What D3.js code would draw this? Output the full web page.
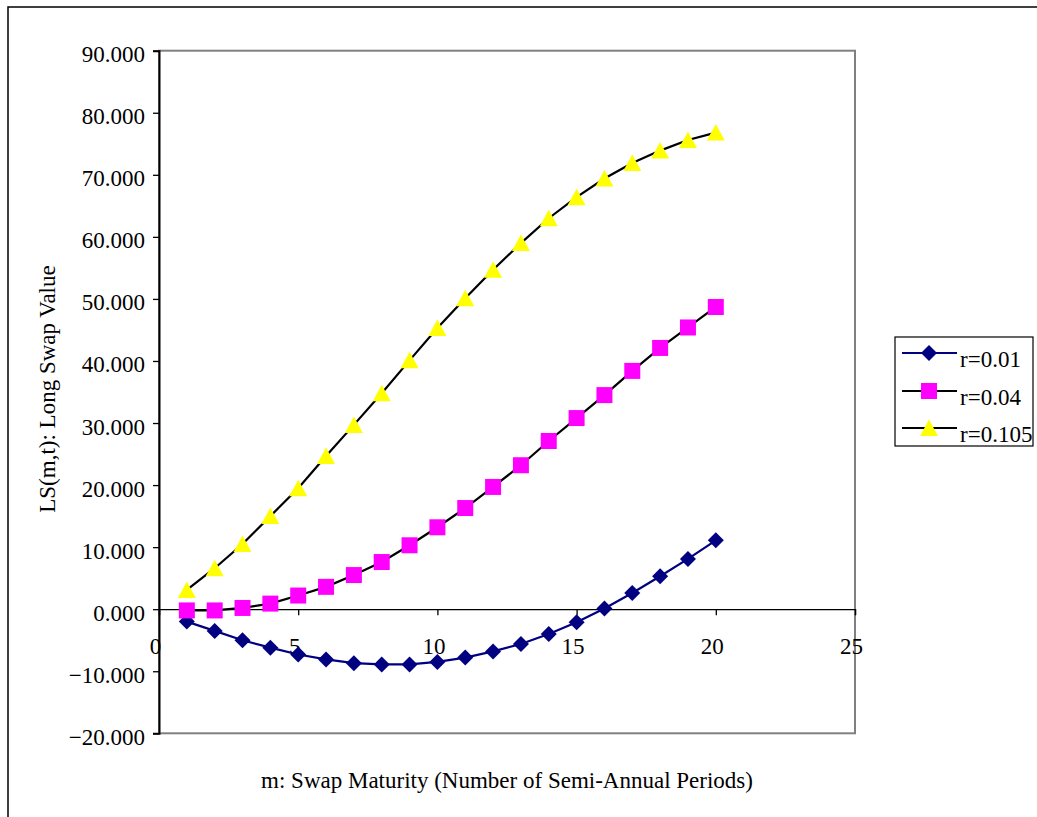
<!DOCTYPE html>
<html>
<head>
<meta charset="utf-8">
<script src="https://cdn.jsdelivr.net/npm/d3@7"></script>
<style>
  html, body { margin: 0; padding: 0; background: #fff; }
  svg { display: block; }
  text { font-family: "Liberation Serif", "Times New Roman", serif; fill: #000; }
</style>
</head>
<body>
<svg id="chart" width="1037" height="817"></svg>
<script>
// ---- data ----
const maturities = [1,2,3,4,5,6,7,8,9,10,11,12,13,14,15,16,17,18,19,20];
const seriesNames = ["r=0.01", "r=0.04", "r=0.105"];
const r001 = [-2.0,-3.5,-5.0,-6.2,-7.3,-8.1,-8.7,-8.9,-8.9,-8.5,-7.8,-6.8,-5.6,-4.0,-2.1,0.1,2.6,5.3,8.1,11.1];
const r004 = [-0.2,-0.2,0.2,0.9,2.2,3.6,5.5,7.6,10.3,13.2,16.3,19.7,23.2,27.1,30.8,34.5,38.4,42.1,45.4,48.7];
const r0105 = [3.1,6.6,10.5,15.0,19.5,24.7,29.7,34.8,40.1,45.3,50.1,54.7,59.0,63.0,66.4,69.4,71.9,73.9,75.6,76.8];
const yTicks = [-20,-10,0,10,20,30,40,50,60,70,80,90];
const xTicks = [0,5,10,15,20,25];
const xTitle = "m: Swap Maturity (Number of Semi-Annual Periods)";
const yTitle = "LS(m,t): Long Swap Value";

const seriesData = [r001, r004, r0105];
const styles = [
  {line: "#000080", fill: "#000080", shape: "diamond"},
  {line: "#000000", fill: "#FF00FF", shape: "square"},
  {line: "#000000", fill: "#FFFF00", shape: "triangle"}
];

// ---- layout ----
const svg = d3.select("#chart");
const L = 159, R = 855, T = 50.7, B = 733.3;
const x = d3.scaleLinear().domain([0, 25]).range([L, R]);
const y = d3.scaleLinear().domain([-20, 90]).range([B, T]);
const FS = 23;

// outer frame
svg.append("rect").attr("x", 8).attr("y", 7).attr("width", 1200).attr("height", 1000)
  .attr("fill", "none").attr("stroke", "#000").attr("stroke-width", 1.5);

// plot area border
svg.append("rect").attr("x", L).attr("y", T).attr("width", R - L).attr("height", B - T)
  .attr("fill", "#fff").attr("stroke", "#808080").attr("stroke-width", 2);

// y axis
const yAxis = d3.axisLeft(y).tickValues(yTicks).tickSize(6).tickPadding(8)
  .tickFormat(d3.format(".3f"));
const gy = svg.append("g").attr("transform", `translate(${L},0)`).call(yAxis);
gy.select(".domain").attr("stroke", "#000").attr("stroke-width", 2);
gy.selectAll(".tick line").attr("stroke", "#000").attr("stroke-width", 1.3);
gy.selectAll(".tick text").attr("font-size", FS).attr("font-family", "Liberation Serif")
  .attr("dy", null).attr("y", 11).attr("x", -14).attr("fill", "#000");

// x axis at y=0
const xAxis = d3.axisBottom(x).tickValues(xTicks).tickSize(6).tickFormat(d3.format("d"));
const gx = svg.append("g").attr("transform", `translate(0,${y(0)})`).call(xAxis);
gx.select(".domain").attr("stroke", "#000").attr("stroke-width", 1.3);
gx.selectAll(".tick line").attr("stroke", "#000").attr("stroke-width", 1.3);
gx.selectAll(".tick text").attr("font-size", FS).attr("font-family", "Liberation Serif")
  .attr("dy", null).attr("y", 45).attr("x", -4).attr("fill", "#000");

// marker path generators
function markerPath(shape) {
  if (shape === "diamond") return "M0,-8L8,0L0,8L-8,0Z";
  if (shape === "square") return "M-8,-8H8V8H-8Z";
  return "M0,-8.5L9,8L-9,8Z";
}

const line = d3.line().x(d => x(d[0])).y(d => y(d[1]));

seriesData.forEach((vals, i) => {
  const pts = maturities.map((m, j) => [m, vals[j]]);
  const g = svg.append("g");
  g.append("path").attr("d", line(pts)).attr("fill", "none")
    .attr("stroke", styles[i].line).attr("stroke-width", 2.2);
  g.selectAll("path.mk").data(pts).enter().append("path").attr("class", "mk")
    .attr("transform", d => `translate(${x(d[0])},${y(d[1])})`)
    .attr("d", markerPath(styles[i].shape))
    .attr("fill", styles[i].fill).attr("stroke", "none");
});

// axis titles
svg.append("text").attr("x", (L + R) / 2).attr("y", 788).attr("text-anchor", "middle")
  .attr("font-size", FS).text(xTitle);
svg.append("text").attr("transform", "translate(55,389) rotate(-90)").attr("text-anchor", "middle")
  .attr("font-size", FS).text(yTitle);

// legend
const lg = svg.append("g");
lg.append("rect").attr("x", 895).attr("y", 337).attr("width", 138).attr("height", 109)
  .attr("fill", "#fff").attr("stroke", "#000").attr("stroke-width", 1.2);
const rowsY = [353, 391, 428];
seriesNames.forEach((name, i) => {
  const ry = rowsY[i];
  lg.append("line").attr("x1", 902).attr("x2", 957).attr("y1", ry).attr("y2", ry)
    .attr("stroke", styles[i].line).attr("stroke-width", 2.2);
  lg.append("path").attr("transform", `translate(929,${ry})`).attr("d", markerPath(styles[i].shape))
    .attr("fill", styles[i].fill);
  lg.append("text").attr("x", 960).attr("y", ry + 14).attr("font-size", FS).text(name);
});
</script>
</body>
</html>
